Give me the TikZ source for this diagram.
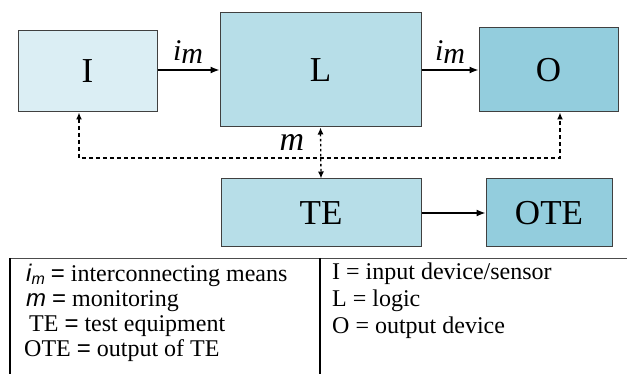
\documentclass[tikz,border=0pt]{standalone}
\usepackage{fontspec}
\setmainfont{Liberation Serif}[ItalicFont=Liberation Serif Italic]
\setsansfont{Liberation Sans}[ItalicFont=Liberation Sans Italic]
\usetikzlibrary{arrows.meta,calc}
\definecolor{cI}{HTML}{DBEEF4}
\definecolor{cL}{HTML}{B7DEE8}
\definecolor{cO}{HTML}{93CDDD}
\definecolor{bd}{HTML}{404040}
\begin{document}
\begin{tikzpicture}[x=1pt,y=-1pt,
  box/.style={draw=bd, line width=1pt, inner sep=0pt, font=\fontsize{35}{35}\selectfont},
  arr/.style={-{Latex[length=9pt,width=7pt]}, line width=1.3pt},
  dsh/.style={dash pattern=on 4pt off 3pt, line width=1.3pt},
  dtt/.style={dash pattern=on 2.5pt off 2.5pt, line width=1.3pt},
  lbl/.style={inner sep=0pt, font=\fontsize{30}{30}\selectfont\itshape},
  key/.style={anchor=base west, inner sep=0pt, font=\fontsize{24}{24}\selectfont},
  rule/.style={line width=1.6pt},
]
\useasboundingbox (0,0) rectangle (627,374);
% boxes
\node[box, fill=cI, minimum width=139pt, minimum height=81pt] (I) at (87.5,71.5) {I};
\node[box, fill=cL, minimum width=201pt, minimum height=114pt] (L) at (320.5,70) {L};
\node[box, fill=cO, minimum width=139pt, minimum height=84pt] (O) at (548.5,70) {O};
\node[box, fill=cL, minimum width=200pt, minimum height=68pt] (TE) at (321,213) {TE};
\node[box, fill=cO, minimum width=126pt, minimum height=68pt] (OTE) at (549,213) {OTE};
% solid connectors
\draw[arr] (I.east |- L.west) -- (L.west);
\draw[arr] (L.east) -- (O.west);
\draw[arr] (TE.east) -- (OTE.west);
% dashed monitoring
\coordinate (dI) at (79,158);
\coordinate (dO) at (560,158);
\draw[dsh, {Latex[length=7pt,width=6pt]}-{Latex[length=7pt,width=6pt]}]
  (I.south -| dI) -- (dI) -- (dO) -- (O.south -| dO);
\draw[dtt, {Latex[length=7pt,width=6pt]}-{Latex[length=7pt,width=6pt]}]
  (L.south) -- (TE.north);
% labels
\node[lbl] (im1) at (188,52) {i\raisebox{-3pt}{m}};
\node[lbl] (im2) at (450,52) {i\raisebox{-3pt}{m}};
\node[lbl, font=\fontsize{34}{34}\selectfont\itshape] (mm) at (292,142) {m};
% legend rules
\draw[line width=0.8pt, black!70] (10,258) -- (627,258);
\draw[rule] (10,258) -- (10,374);
\draw[rule] (320,258) -- (320,374);
% legend text
\node[key] (k1) at (26,282) {{\sffamily\itshape i}\raisebox{-3pt}{\fontsize{16}{16}\sffamily\itshape m} {\sffamily =} interconnecting means};
\node[key] (k2) at (26,306) {{\sffamily\itshape m} {\sffamily =} monitoring};
\node[key] (k3) at (29,331) {TE {\sffamily =} test equipment};
\node[key] (k4) at (24,356) {OTE {\sffamily =} output of TE};
\node[key] (k5) at (332,280) {I = input device/sensor};
\node[key] (k6) at (332,307) {L = logic};
\node[key] (k7) at (332,334) {O = output device};
\end{tikzpicture}
\end{document}
